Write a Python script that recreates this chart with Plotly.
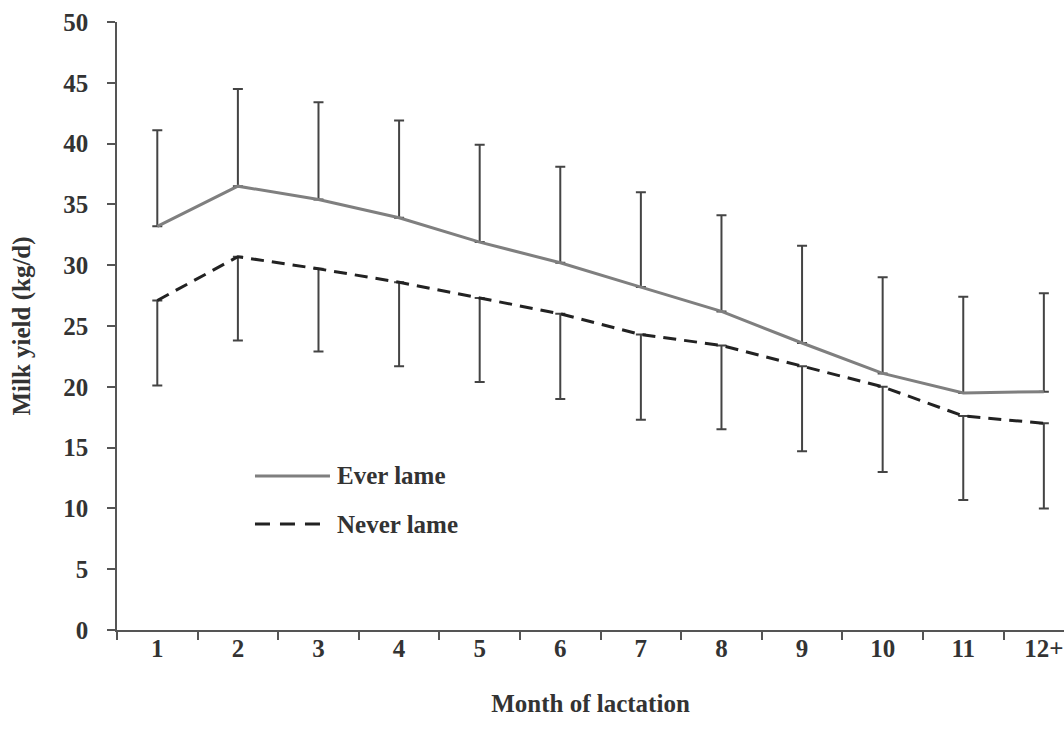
import plotly.graph_objects as go

months = ["1", "2", "3", "4", "5", "6", "7", "8", "9", "10", "11", "12+"]
ever_lame = [33.2, 36.5, 35.4, 33.9, 31.9, 30.2, 28.2, 26.2, 23.6, 21.1, 19.5, 19.6]
ever_lame_upper = [41.1, 44.5, 43.4, 41.9, 39.9, 38.1, 36.0, 34.1, 31.6, 29.0, 27.4, 27.7]
never_lame = [27.1, 30.7, 29.7, 28.6, 27.3, 26.0, 24.3, 23.4, 21.7, 20.0, 17.6, 17.0]
never_lame_lower = [20.1, 23.8, 22.9, 21.7, 20.4, 19.0, 17.3, 16.5, 14.7, 13.0, 10.7, 10.0]
y_ticks = [0, 5, 10, 15, 20, 25, 30, 35, 40, 45, 50]

ever_plus = [u - v for u, v in zip(ever_lame_upper, ever_lame)]
never_minus = [v - l for v, l in zip(never_lame, never_lame_lower)]

FONT = "Liberation Serif"
TXT = "#333333"
FS = 25

fig = go.Figure()

fig.add_trace(go.Scatter(
    x=months, y=ever_lame, mode="lines", name="Ever lame",
    line=dict(color="#7f7f7f", width=3),
    error_y=dict(type="data", symmetric=False, array=ever_plus,
                 arrayminus=[0] * len(months), color="#444444",
                 thickness=2, width=5),
    showlegend=False,
))
fig.add_trace(go.Scatter(
    x=months, y=never_lame, mode="lines", name="Never lame",
    line=dict(color="#222222", width=3, dash="13px,8px"),
    error_y=dict(type="data", symmetric=False, array=[0] * len(months),
                 arrayminus=never_minus, color="#444444",
                 thickness=2, width=5),
    showlegend=False,
))

# custom legend (inside plot area)
legend_items = [("Ever lame", 0.2533, dict(color="#7f7f7f", width=3)),
                ("Never lame", 0.1743, dict(color="#222222", width=3, dash="15px,10px"))]
for label, yp, ln in legend_items:
    fig.add_shape(type="line", xref="paper", yref="paper",
                  x0=0.1457, x1=0.2249, y0=yp, y1=yp, line=ln)
    fig.add_annotation(text="<b>%s</b>" % label, xref="paper", yref="paper",
                       x=0.2302, y=yp, xanchor="left", yanchor="middle",
                       showarrow=False, font=dict(family=FONT, size=FS, color=TXT))

fig.update_layout(
    width=1064, height=740,
    margin=dict(l=117, r=0, t=22, b=110),
    paper_bgcolor="white", plot_bgcolor="white",
    font=dict(family=FONT, size=FS, color=TXT),
)
fig.update_xaxes(
    type="category", categoryorder="array", categoryarray=months,
    range=[-0.5, 11.25], tickson="boundaries",
    ticks="outside", ticklen=8, tickwidth=1.5, tickcolor="#555555",
    showline=True, linecolor="#555555", linewidth=1.5,
    showgrid=False, zeroline=False, ticklabelstandoff=-5,
    tickfont=dict(family=FONT, size=FS, color=TXT, weight="bold"),
    title=dict(text="<b>Month of lactation</b>", standoff=34,
               font=dict(family=FONT, size=FS, color=TXT)),
)
fig.update_yaxes(
    range=[0, 50], tickvals=y_ticks,
    ticks="outside", ticklen=8, tickwidth=1.5, tickcolor="#555555",
    showline=True, linecolor="#555555", linewidth=1.5,
    showgrid=False, zeroline=False, ticklabelstandoff=14,
    tickfont=dict(family=FONT, size=FS, color=TXT, weight="bold"),
    title=dict(text="<b>Milk yield (kg/d)</b>", standoff=26,
               font=dict(family=FONT, size=FS, color=TXT)),
)

fig.write_html("out.html", config={"displayModeBar": False},
               post_script="document.body.style.margin='0';")
